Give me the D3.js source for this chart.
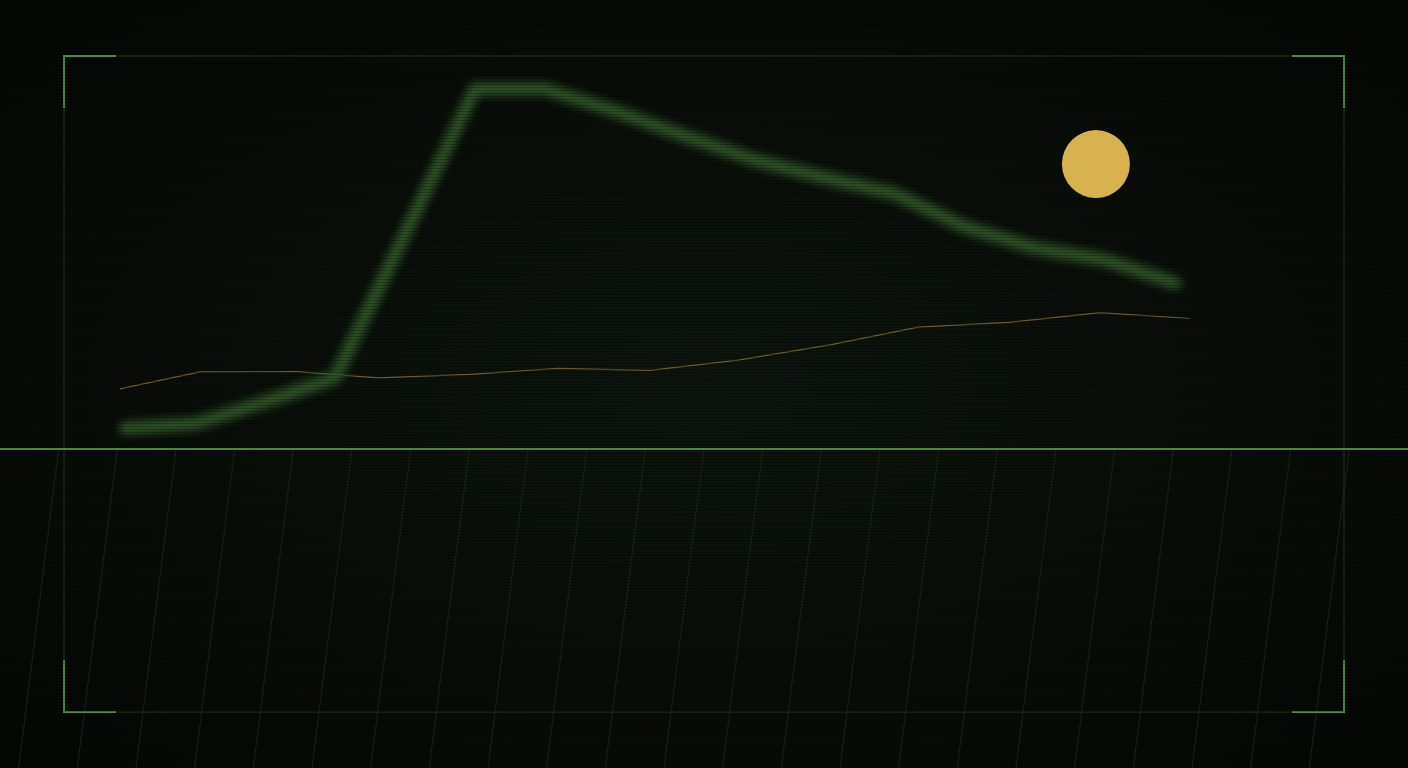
<!DOCTYPE html>
<html>
<head>
<meta charset="utf-8">
<script src="https://cdn.jsdelivr.net/npm/d3@7"></script>
<style>
  html, body { margin: 0; padding: 0; background: #060806; overflow: hidden; }
  svg { display: block; }
</style>
</head>
<body>
<svg id="chart" width="1408" height="768"></svg>
<script>
var W = 1408, H = 768;

// series values (0 = baseline, 100 = top of frame)
var signalValues = [5.3, 6.4, 12.0, 18.1, 54.7, 91.6, 91.6, 86.0, 79.6, 73.5, 69.0, 64.9, 56.5, 51.1, 48.1, 42.2];
var traceSteps   = [0.11, 1, 2.08, 2.98, 4, 4.97, 6, 6.98, 8, 8.98, 9.98, 11, 12];
var traceValues  = [15.3, 19.6, 19.7, 18.1, 19.0, 20.5, 20.0, 22.6, 26.5, 31.0, 32.2, 34.7, 33.2];
var markerPoint  = [{ i: 13.87, v: 72.5 }];
var gridIndex    = d3.range(1, 24);

var svg = d3.select('#chart');
var defs = svg.append('defs');

var frame = { x0: 64, y0: 56, x1: 1344, y1: 712 };
var baseY = 449;

var y = d3.scaleLinear().domain([0, 100]).range([baseY, frame.y0]);
var xSignal = d3.scaleLinear().domain([0, signalValues.length - 1]).range([125, 1175]);
var xTrace = d3.scaleLinear().domain([0, 12]).range([110, 1190]);
var xGrid = d3.scaleLinear().domain([0, 24]).range([0, W]);

// background glow
var bg = defs.append('radialGradient').attr('id', 'bg')
  .attr('cx', '50%').attr('cy', '50%').attr('r', '70%');
bg.append('stop').attr('offset', '0%').attr('stop-color', '#0d140d');
bg.append('stop').attr('offset', '100%').attr('stop-color', '#050705');

var scan = defs.append('pattern').attr('id', 'scan')
  .attr('width', 4).attr('height', 3).attr('patternUnits', 'userSpaceOnUse');
scan.append('rect').attr('width', 4).attr('height', 1).attr('fill', 'rgba(0,0,0,0.25)');

var blur = defs.append('filter').attr('id', 'blur')
  .attr('x', '-10%').attr('y', '-10%').attr('width', '120%').attr('height', '120%');
blur.append('feGaussianBlur').attr('stdDeviation', 4.5);

svg.append('rect').attr('width', W).attr('height', H).attr('fill', 'url(#bg)');

// slanted floor lines below baseline
svg.append('g').selectAll('line').data(gridIndex).enter()
  .append('line')
    .attr('x1', function(d) { return xGrid(d); })
    .attr('y1', baseY)
    .attr('x2', function(d) { return xGrid(d) - 40; })
    .attr('y2', H)
    .attr('stroke', '#16271a')
    .attr('stroke-width', 1);

// faint frame
svg.append('rect')
  .attr('x', frame.x0).attr('y', frame.y0)
  .attr('width', frame.x1 - frame.x0).attr('height', frame.y1 - frame.y0)
  .attr('fill', 'none').attr('stroke', '#182a14').attr('stroke-width', 1.5);

// corner brackets
var L = 52;
var corners = [
  [[frame.x0, frame.y0 + L], [frame.x0, frame.y0], [frame.x0 + L, frame.y0]],
  [[frame.x1 - L, frame.y0], [frame.x1, frame.y0], [frame.x1, frame.y0 + L]],
  [[frame.x0, frame.y1 - L], [frame.x0, frame.y1], [frame.x0 + L, frame.y1]],
  [[frame.x1 - L, frame.y1], [frame.x1, frame.y1], [frame.x1, frame.y1 - L]]
];
svg.append('g').selectAll('path').data(corners).enter()
  .append('path')
    .attr('d', d3.line())
    .attr('fill', 'none')
    .attr('stroke', '#4e8f34')
    .attr('stroke-width', 2);

// baseline
svg.append('line')
  .attr('x1', 0).attr('x2', W).attr('y1', y(0)).attr('y2', y(0))
  .attr('stroke', '#4b8a32').attr('stroke-width', 2);

// thin trace
svg.append('path').datum(traceValues)
  .attr('d', d3.line().x(function(d, i) { return xTrace(traceSteps[i]); }).y(function(d) { return y(d); }))
  .attr('fill', 'none')
  .attr('stroke', '#6f5c2c')
  .attr('stroke-width', 1.2);

// blurred signal
svg.append('path').datum(signalValues)
  .attr('d', d3.line().x(function(d, i) { return xSignal(i); }).y(function(d) { return y(d); }))
  .attr('fill', 'none')
  .attr('stroke', '#2f5526')
  .attr('stroke-width', 13)
  .attr('stroke-linecap', 'round')
  .attr('stroke-linejoin', 'round')
  .attr('filter', 'url(#blur)');

// scanlines
svg.append('rect').attr('width', W).attr('height', H).attr('fill', 'url(#scan)')
  .style('pointer-events', 'none');

// marker
svg.append('g').selectAll('circle').data(markerPoint).enter()
  .append('circle')
    .attr('cx', function(d) { return xSignal(d.i); })
    .attr('cy', function(d) { return y(d.v); })
    .attr('r', 34)
    .attr('fill', '#d9b250');
</script>
</body>
</html>
